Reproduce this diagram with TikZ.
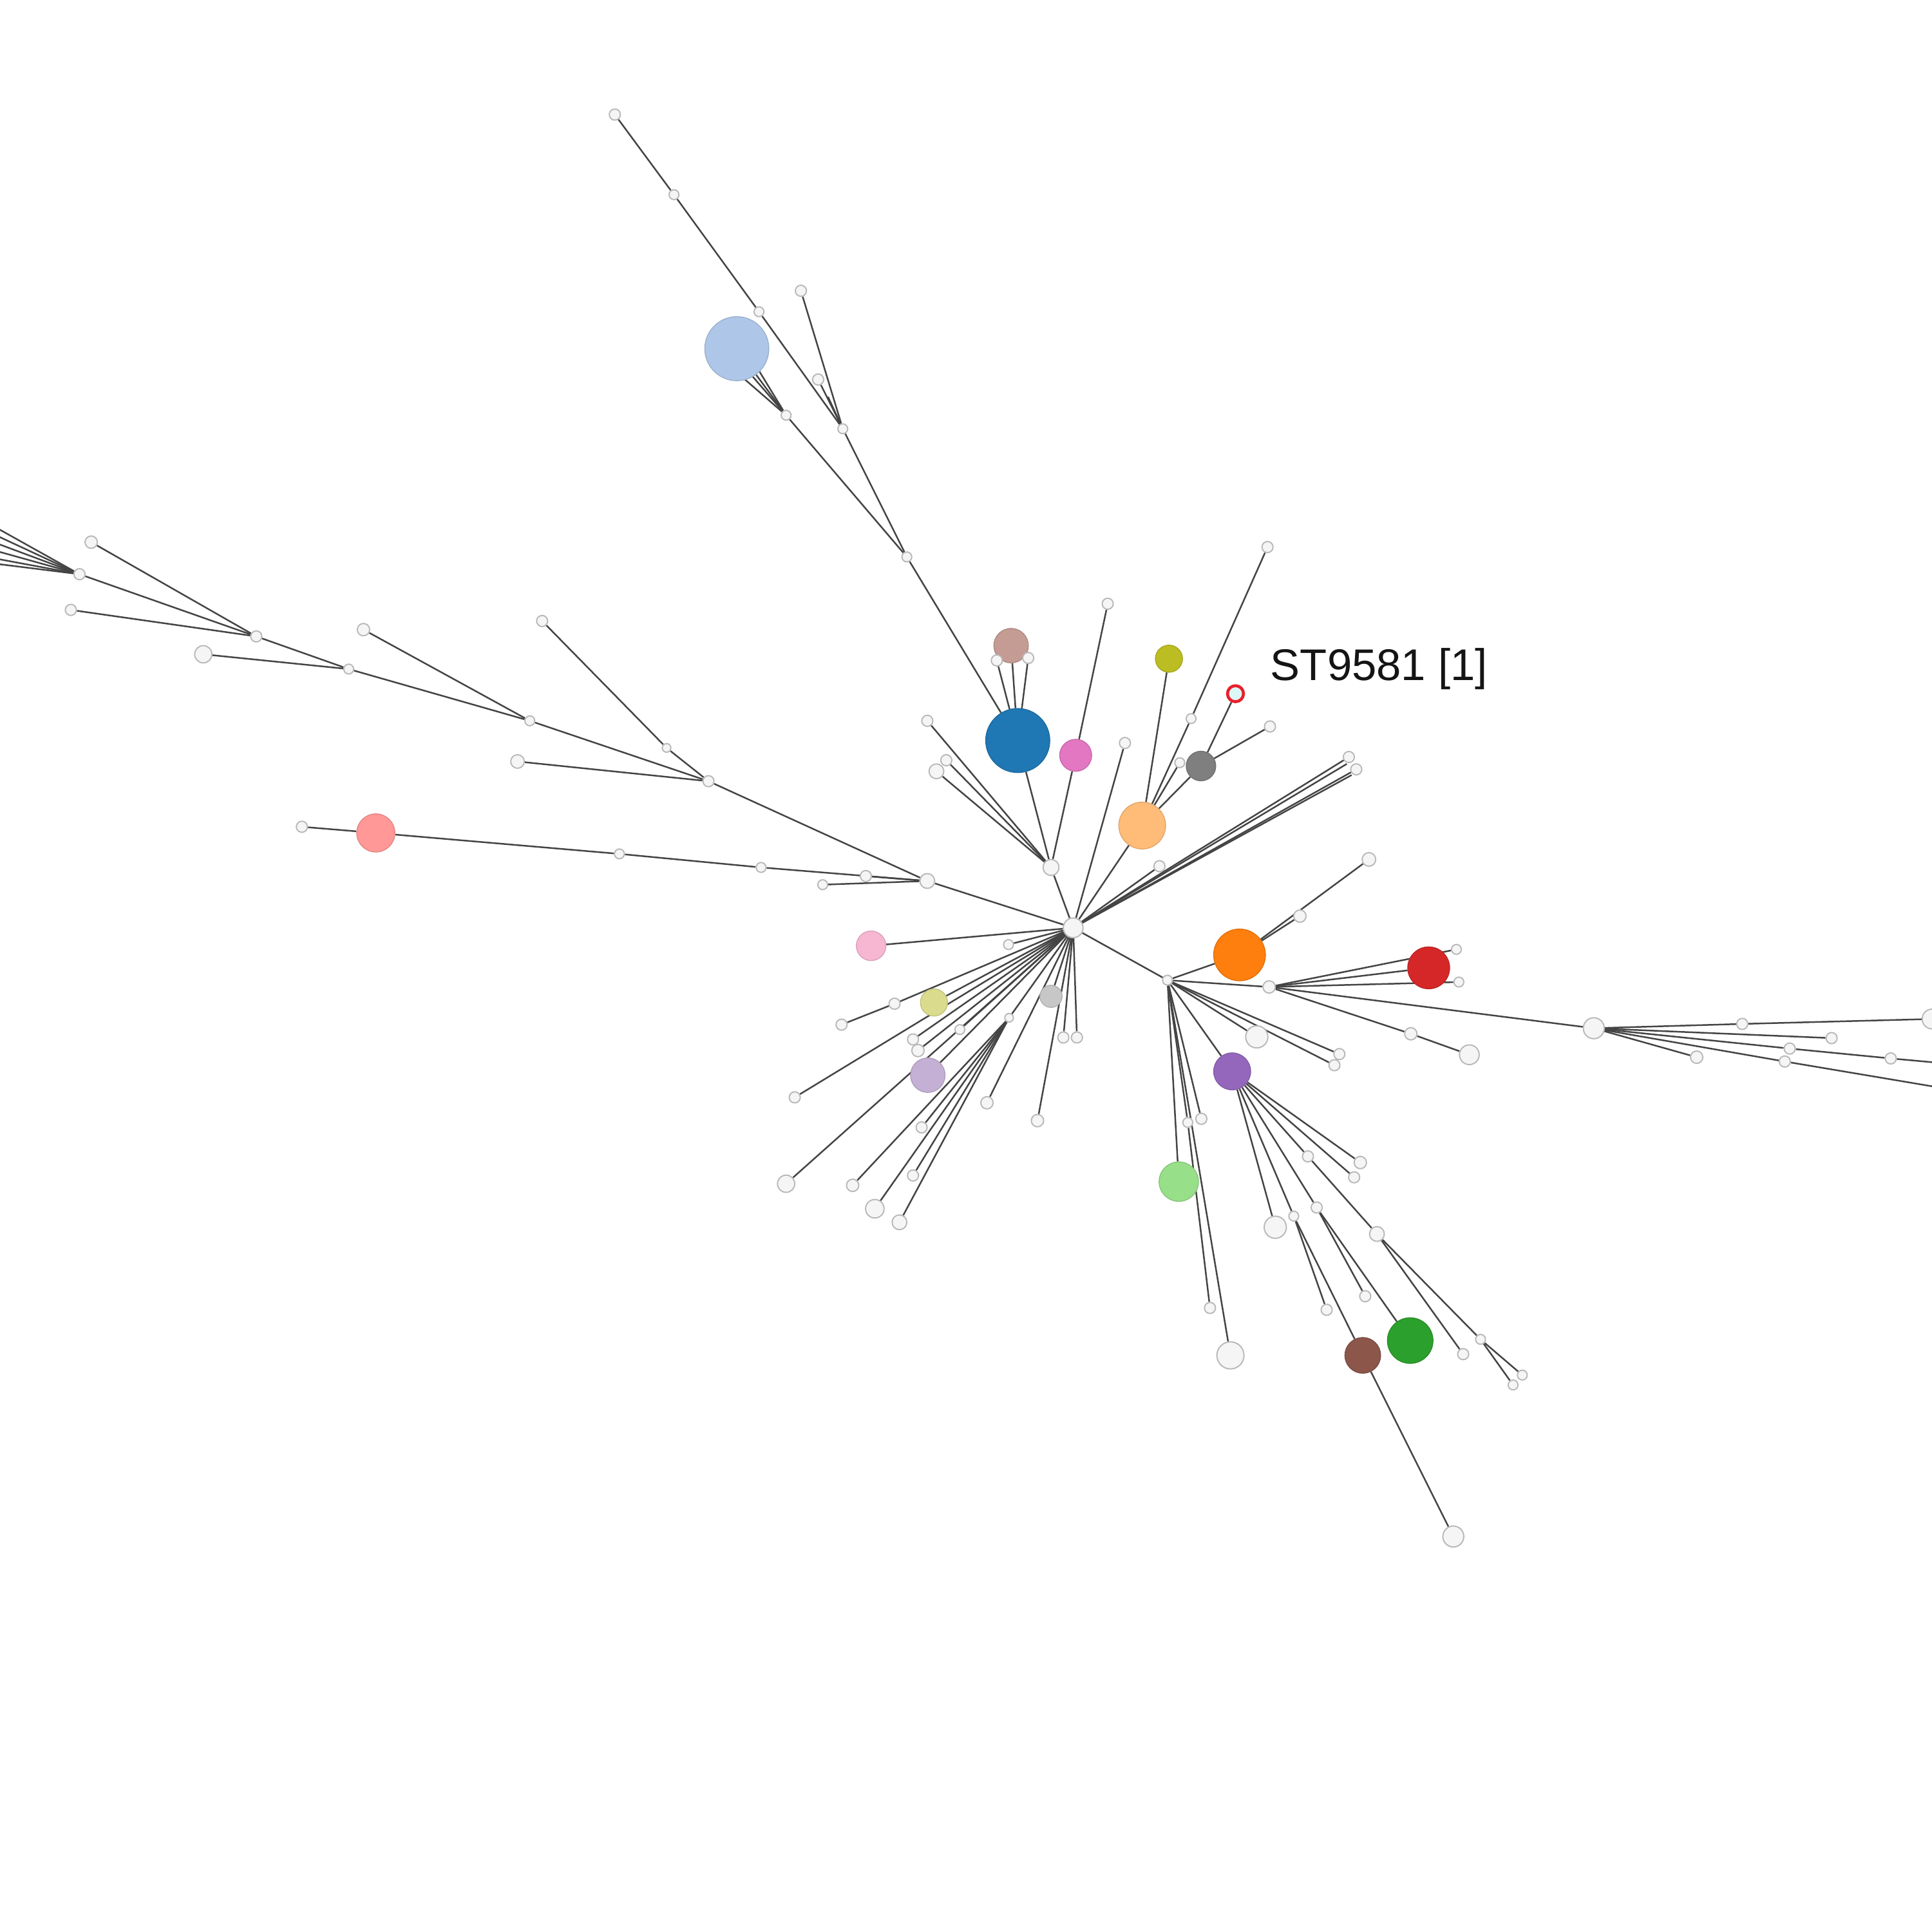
\documentclass[tikz,border=0pt]{standalone}
\usepackage{fontspec}
\setmainfont{Liberation Sans}
\pgfdeclarelayer{edgelayer}
\pgfsetlayers{edgelayer,main}
\definecolor{tabblue}{HTML}{1F77B4}
\definecolor{tablightblue}{HTML}{AEC7E8}
\definecolor{taborange}{HTML}{FF7F0E}
\definecolor{tabpeach}{HTML}{FFBB78}
\definecolor{tabgreen}{HTML}{2CA02C}
\definecolor{tablightgreen}{HTML}{98DF8A}
\definecolor{tabred}{HTML}{D62728}
\definecolor{tabsalmon}{HTML}{FF9896}
\definecolor{tabpurple}{HTML}{9467BD}
\definecolor{tablavender}{HTML}{C5B0D5}
\definecolor{tabbrown}{HTML}{8C564B}
\definecolor{tabrosy}{HTML}{C49C94}
\definecolor{tabpink}{HTML}{E377C2}
\definecolor{tablightpink}{HTML}{F7B6D2}
\definecolor{tabgrey}{HTML}{7F7F7F}
\definecolor{tablightgrey}{HTML}{C7C7C7}
\definecolor{tabolive}{HTML}{BCBD22}
\definecolor{tabkhaki}{HTML}{DBDB8D}
\definecolor{nodeline}{HTML}{B8B8B8}
\definecolor{nodefill}{HTML}{F5F5F5}
\definecolor{edgecol}{HTML}{444444}
\definecolor{ringred}{HTML}{E8202A}
\definecolor{ringfill}{HTML}{DDF6F6}
\tikzset{
  wnode/.style={circle,draw=nodeline,fill=nodefill,line width=1pt,inner sep=0pt,minimum size=#1},
  wnode/.default=9pt,
  cnode/.style={circle,inner sep=0pt,line width=0.7pt,fill=#1,draw=#1!88!black},
  edge/.style={draw=edgecol,line width=1.3pt}
}
\begin{document}
\begin{tikzpicture}[x=1pt,y=-1pt]
\useasboundingbox (0,0) rectangle (1568,1568);
% ---------- hub ----------
\node[wnode=16pt] (C) at (871,753) {};
\node[wnode=13pt] (n1) at (853,704) {};
\node[cnode=tabblue,minimum size=52pt] (blue) at (826,601) {};
\node[cnode=tabrosy,minimum size=28pt] (rosy) at (820.6,524) {};
\node[wnode=9pt] (wb1) at (809,536) {};
\node[wnode=9pt] (wb2) at (834.5,534) {};
\node[cnode=tabpink,minimum size=26pt] (pink) at (873,613) {};
\node[wnode=9pt] (wp1) at (899,490) {};
\node[wnode=9pt] (wu1) at (913,603) {};
\node[wnode=9pt] (wn1a) at (752.6,585) {};
\node[wnode=12pt] (wn1b) at (760,626) {};
\node[wnode=9pt] (wn1c) at (768,617) {};
% ---------- top branch ----------
\node[wnode=9pt] (T1) at (499,93) {};
\node[wnode=8pt] (T2) at (547,158) {};
\node[wnode=8pt] (T3) at (616,253) {};
\node[wnode=9pt] (T4) at (650,236) {};
\node[wnode=9pt] (T5) at (664,308) {};
\node[wnode=8pt] (T6) at (684,348) {};
\node[wnode=8pt] (T7) at (638,337) {};
\node[wnode=8pt] (T8) at (736,452) {};
\node[cnode=tablightblue,minimum size=52pt] (LB) at (598,283) {};
% ---------- left branch ----------
\node[wnode=12pt] (L1) at (752.6,715) {};
\node[wnode=9pt] (La) at (702.7,711) {};
\node[wnode=8pt] (Lb) at (667.7,718) {};
\node[wnode=8pt] (Lc) at (617.7,704) {};
\node[wnode=8pt] (Ld) at (502.7,693) {};
\node[cnode=tabsalmon,minimum size=31pt] (sal) at (305,676) {};
\node[wnode=9pt] (Le) at (245,671) {};
\node[wnode=9pt] (J4) at (575,634) {};
\node[wnode=11pt] (Lf) at (420,618) {};
\node[wnode=9pt] (Lg) at (440,504) {};
\node[wnode=7pt] (Lh) at (541,607) {};
\node[wnode=8pt] (J5) at (430,585) {};
\node[wnode=10pt] (Li) at (295,511) {};
\node[wnode=8pt] (J6) at (283,543) {};
\node[wnode=14pt] (Lj) at (165,531) {};
\node[wnode=9pt] (J7) at (208,516.5) {};
\node[wnode=10pt] (Lk) at (74,440) {};
\node[wnode=9pt] (Ll) at (64.5,466) {};
\node[wnode=9pt] (Lm) at (57.5,495) {};
\coordinate (of1) at (-15,421.6);
\coordinate (of2) at (-15,429);
\coordinate (of3) at (-15,436.4);
\coordinate (of4) at (-15,443.8);
\coordinate (of5) at (-15,451.2);
\coordinate (of6) at (-15,456.1);
% ---------- lower right ----------
\node[wnode=8pt] (J2) at (947.5,795.5) {};
\node[cnode=taborange,minimum size=42pt] (orange) at (1006,775) {};
\node[wnode=10pt] (Oa) at (1055,743.5) {};
\node[wnode=11pt] (Ob) at (1111,697.5) {};
\node[wnode=10pt] (J3) at (1030,801) {};
\node[wnode=8pt] (Ra) at (1182,770.5) {};
\node[wnode=8pt] (Rb) at (1184,797) {};
\node[cnode=tabred,minimum size=34pt] (red) at (1159.5,785.5) {};
\node[wnode=10pt] (Rc) at (1145,839) {};
\node[wnode=16pt] (Rd) at (1192.5,856) {};
\node[wnode=17pt] (R1) at (1293.5,834.5) {};
\node[wnode=9pt] (R1a) at (1414,831) {};
\node[wnode=16pt] (R1b) at (1568,827) {};
\node[wnode=9pt] (R1c) at (1486.5,842.5) {};
\node[wnode=9pt] (R1d) at (1452.5,851) {};
\node[wnode=9pt] (R1e) at (1534.5,859) {};
\node[wnode=9pt] (R1f) at (1448.5,861.5) {};
\node[wnode=10pt] (R1g) at (1377,858) {};
\coordinate (orA) at (1600,865);
\coordinate (orB) at (1600,887);
\node[wnode=18pt] (W1) at (1020,841.5) {};
\node[wnode=9pt] (W2) at (1087,855.5) {};
\node[wnode=9pt] (W3) at (1083,864.5) {};
\node[cnode=tabpurple,minimum size=30pt] (purple) at (1000,869.5) {};
\node[cnode=tablightgreen,minimum size=32pt] (lgreen) at (956.7,959) {};
\node[wnode=8pt] (W4) at (964,911) {};
\node[wnode=9pt] (W5) at (975,908) {};
\node[wnode=9pt] (W6) at (982,1061.5) {};
\node[wnode=22pt] (W7) at (998.6,1100) {};
\node[wnode=9pt] (P1) at (1099,955.5) {};
\node[wnode=10pt] (P2) at (1104,943.5) {};
\node[wnode=9pt] (P3) at (1061.5,938.5) {};
\node[wnode=12pt] (P4) at (1117.5,1001.5) {};
\node[wnode=9pt] (P5) at (1187.5,1099) {};
\node[wnode=8pt] (P6) at (1201.6,1087) {};
\node[wnode=8pt] (P7) at (1235.5,1116) {};
\node[wnode=8pt] (P8) at (1228,1124) {};
\node[wnode=9pt] (P9) at (1068.6,980) {};
\node[wnode=9pt] (P10) at (1108,1052) {};
\node[cnode=tabgreen,minimum size=37pt] (green) at (1144.5,1088) {};
\node[wnode=8pt] (P11) at (1050,987) {};
\node[wnode=9pt] (P12) at (1076.7,1063) {};
\node[cnode=tabbrown,minimum size=29pt] (brown) at (1106,1100) {};
\node[wnode=17pt] (P13) at (1179.5,1247) {};
\node[wnode=18pt] (P14) at (1035,996) {};
% ---------- upper right ----------
\node[cnode=tabpeach,minimum size=38pt] (peach) at (927,670) {};
\node[cnode=tabolive,minimum size=22pt] (olive) at (948.7,534.6) {};
\node[circle,draw=ringred,fill=ringfill,line width=2.4pt,minimum size=13pt,inner sep=0pt] (ring) at (1002.7,563) {};
\node[wnode=9pt] (Ua) at (1028.7,444) {};
\node[wnode=8pt] (Ub) at (966.7,583.2) {};
\node[wnode=8pt] (Ud) at (957.5,619) {};
\node[cnode=tabgrey,minimum size=24pt] (grey) at (974.7,621.7) {};
\node[wnode=9pt] (Uc) at (1030.7,589.6) {};
\node[wnode=9pt] (Ue) at (1094.7,614.4) {};
\node[wnode=9pt] (Uf) at (1100.7,624.4) {};
\node[wnode=9pt] (Ug) at (941,703) {};
\coordinate (bA) at (1093,620);
\coordinate (bB) at (1097,629);
\node[anchor=base west,inner sep=0pt,font=\fontsize{36}{40}\selectfont,text=black!92] (lab) at (1031,552) {ST9581 [1]};
% ---------- lower left ----------
\node[cnode=tablightpink,minimum size=24pt] (K1) at (707,767.6) {};
\node[wnode=8pt] (K2) at (818.5,766.6) {};
\node[wnode=9pt] (K3) at (726,814.6) {};
\node[wnode=9pt] (K4) at (683,831.6) {};
\node[cnode=tabkhaki,minimum size=22pt] (K5) at (758,813.6) {};
\node[wnode=9pt] (K6) at (645,890.6) {};
\node[wnode=9pt] (K7) at (741,843.6) {};
\node[wnode=10pt] (K8) at (745,852.6) {};
\node[wnode=8pt] (K9) at (779,835.6) {};
\node[cnode=tablavender,minimum size=28pt] (K10) at (753,872.6) {};
\node[wnode=14pt] (K11) at (638,960.7) {};
\node[wnode=7pt] (S) at (819,826) {};
\node[wnode=10pt] (K12) at (692,962) {};
\node[wnode=15pt] (K13) at (710,981) {};
\node[wnode=12pt] (K14) at (730,992) {};
\node[wnode=9pt] (K15) at (741,954) {};
\node[wnode=9pt] (K16) at (748,915) {};
\node[wnode=10pt] (K17) at (801,895) {};
\node[wnode=10pt] (K18) at (842,909.5) {};
\node[cnode=tablightgrey,minimum size=18pt] (K19) at (853,808.6) {};
\node[wnode=9pt] (K20) at (863,842) {};
\node[wnode=9pt] (K21) at (874,842) {};
\coordinate (lbh1) at (606,300);
\coordinate (lbh2) at (613,296);
\coordinate (lbh3) at (600,304);
\coordinate (t6h) at (672,322);
% ---------- edges ----------
\begin{pgfonlayer}{edgelayer}
\foreach \a/\b in {C/n1,n1/blue,n1/pink,n1/wn1a,n1/wn1b,n1/wn1c,blue/rosy,blue/wb1,blue/wb2,pink/wp1,C/wu1,blue/T8,
  T8/T7,T8/T6,T7/LB,T7/lbh1,T7/lbh2,T7/lbh3,T6/T5,T6/T3,T6/T4,T6/t6h,T3/T2,T2/T1,
  C/L1,L1/La,L1/Lb,L1/Lc,Lc/Ld,Ld/sal,sal/Le,L1/J4,J4/Lf,J4/Lh,Lh/Lg,J4/J5,J5/Li,J5/J6,J6/Lj,J6/J7,J7/Lk,J7/Ll,J7/Lm,
  Ll/of1,Ll/of2,Ll/of3,Ll/of4,Ll/of5,Ll/of6,
  C/J2,J2/orange,orange/Oa,orange/Ob,J2/J3,J3/red,J3/Ra,J3/Rb,J3/Rc,Rc/Rd,J3/R1,R1/R1a,R1a/R1b,R1/R1c,R1/R1d,R1d/R1e,R1e/orA,R1/R1f,R1f/orB,R1/R1g,
  J2/W1,J2/W2,J2/W3,J2/purple,J2/lgreen,J2/W4,W4/W6,J2/W5,J2/W7,
  purple/P1,purple/P2,purple/P3,P3/P4,P4/P5,P4/P6,P6/P7,P6/P8,purple/P9,P9/P10,P9/green,purple/P11,P11/P12,P11/brown,brown/P13,purple/P14,
  C/peach,peach/olive,peach/Ub,Ub/Ua,peach/grey,grey/ring,grey/Uc,peach/Ud,C/Ue,C/Uf,C/Ug,C/bA,C/bB,
  C/K1,C/K2,C/K3,K3/K4,C/K5,C/K6,C/K7,C/K8,C/K9,C/K10,C/K11,C/S,S/K12,S/K13,S/K14,S/K15,S/K16,C/K17,C/K18,C/K19,C/K20,C/K21}
  {\draw[edge] (\a) -- (\b);}
\end{pgfonlayer}
\end{tikzpicture}
\end{document}
